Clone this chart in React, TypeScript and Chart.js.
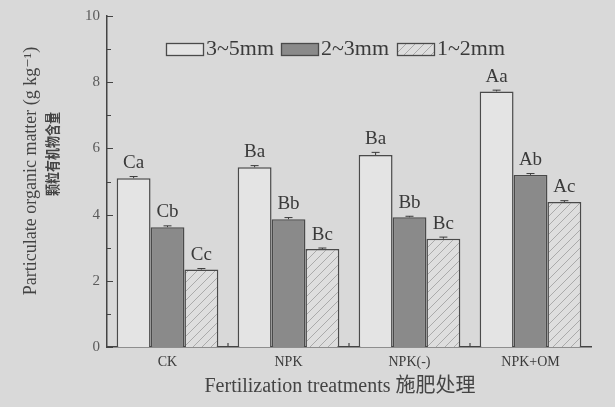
import React, { useEffect, useRef } from "react";
import { Chart, registerables } from "chart.js";

Chart.register(...registerables);

const categories = ["CK", "NPK", "NPK(-)", "NPK+OM"];
const seriesNames = ["3~5mm", "2~3mm", "1~2mm"];
const values35 = [5.1, 5.43, 5.8, 7.72];
const values23 = [3.62, 3.86, 3.92, 5.2];
const values12 = [2.34, 2.96, 3.27, 4.38];
const err35 = [0.05, 0.05, 0.08, 0.04];
const err23 = [0.04, 0.05, 0.03, 0.04];
const err12 = [0.03, 0.03, 0.05, 0.04];
const letters35 = ["Ca", "Ba", "Ba", "Aa"];
const letters23 = ["Cb", "Bb", "Bb", "Ab"];
const letters12 = ["Cc", "Bc", "Bc", "Ac"];
const yTicks = [0, 2, 4, 6, 8, 10];
const yMinorTicks = [1, 3, 5, 7, 9];
const xTitle = "Fertilization treatments 施肥处理";
const yTitleEn = "Particulate organic matter (g kg⁻¹)";
const yTitleZh = "颗粒有机物含量";

const BG = "#d9d9d9";
const INK = "#3a3a3a";
const SERIF = "'Liberation Serif', 'DejaVu Serif', serif";
const CJK = "'Noto Sans CJK SC', sans-serif";

function makeHatch(): CanvasPattern | string {
  const c = document.createElement("canvas");
  c.width = 9;
  c.height = 9;
  const g = c.getContext("2d");
  if (!g) return "#dedede";
  g.fillStyle = "#dedede";
  g.fillRect(0, 0, 9, 9);
  g.strokeStyle = "#aaaaaa";
  g.lineWidth = 1;
  g.beginPath();
  g.moveTo(0, 9);
  g.lineTo(9, 0);
  g.moveTo(-2, 2);
  g.lineTo(2, -2);
  g.moveTo(7, 11);
  g.lineTo(11, 7);
  g.stroke();
  const p = g.createPattern(c, "repeat");
  return p || "#dedede";
}

export default function App() {
  const ref = useRef<HTMLCanvasElement | null>(null);

  useEffect(() => {
    document.body.style.margin = "0";
    document.body.style.background = BG;
    const canvas = ref.current;
    if (!canvas) return;
    const hatch = makeHatch();
    const errs = [err35, err23, err12];
    const letters = [letters35, letters23, letters12];
    const fills = ["#e4e4e4", "#8a8a8a", hatch];

    const annot = {
      id: "annot",
      afterDatasetsDraw(chart: any) {
        const ctx = chart.ctx;
        const y = chart.scales.y;
        const x = chart.scales.x;
        const area = chart.chartArea;
        ctx.save();
        // error bars + letters
        chart.data.datasets.forEach((ds: any, di: number) => {
          const meta = chart.getDatasetMeta(di);
          meta.data.forEach((bar: any, i: number) => {
            const v = ds.data[i];
            const e = errs[di][i];
            const yt = y.getPixelForValue(v + e);
            const bx = bar.x;
            ctx.strokeStyle = INK;
            ctx.lineWidth = 1;
            ctx.beginPath();
            ctx.moveTo(bx, y.getPixelForValue(v));
            ctx.lineTo(bx, yt);
            ctx.moveTo(bx - 4, yt);
            ctx.lineTo(bx + 4, yt);
            ctx.stroke();
            ctx.fillStyle = INK;
            ctx.font = "19px " + SERIF;
            ctx.textAlign = "center";
            ctx.textBaseline = "bottom";
            ctx.fillText(letters[di][i], bx, yt - 4);
          });
        });
        // y ticks (inward)
        ctx.strokeStyle = "#444";
        ctx.lineWidth = 1.2;
        ctx.beginPath();
        yTicks.forEach((t) => {
          const py = Math.round(y.getPixelForValue(t)) + 0.5;
          ctx.moveTo(area.left, py);
          ctx.lineTo(area.left + 6, py);
        });
        yMinorTicks.forEach((t) => {
          const py = Math.round(y.getPixelForValue(t)) + 0.5;
          ctx.moveTo(area.left, py);
          ctx.lineTo(area.left + 4, py);
        });
        // x boundary ticks
        for (let i = 1; i < categories.length; i++) {
          const px = (x.getPixelForValue(i - 1) + x.getPixelForValue(i)) / 2;
          ctx.moveTo(px, area.bottom);
          ctx.lineTo(px, area.bottom - 4);
        }
        ctx.stroke();

        // legend
        const boxW = 37;
        const boxH = 12;
        const ly = 43;
        const boxX = [166, 281, 397];
        ctx.font = "20px " + SERIF;
        ctx.textBaseline = "middle";
        ctx.textAlign = "left";
        seriesNames.forEach((name, i) => {
          const lx = boxX[i];
          ctx.fillStyle = fills[i] as any;
          ctx.fillRect(lx, ly, boxW, boxH);
          ctx.strokeStyle = "#4a4a4a";
          ctx.lineWidth = 1.3;
          ctx.strokeRect(lx + 0.5, ly + 0.5, boxW, boxH);
          ctx.fillStyle = INK;
          const w = ctx.measureText(name).width;
          ctx.save();
          ctx.translate(lx + boxW + 3, ly + boxH / 2 + 1);
          ctx.scale(68 / w, 1);
          ctx.fillText(name, 0, 0);
          ctx.restore();
        });

        // x title
        ctx.fillStyle = "#444";
        ctx.textAlign = "center";
        ctx.textBaseline = "middle";
        ctx.font = "20px " + SERIF + ", " + CJK;
        ctx.fillText(xTitle, 340, 387);

        // y titles
        ctx.save();
        ctx.translate(31, 171);
        ctx.rotate(-Math.PI / 2);
        ctx.font = "18px " + SERIF;
        ctx.fillText(yTitleEn, 0, 0);
        ctx.restore();
        ctx.save();
        ctx.translate(52, 154);
        ctx.rotate(-Math.PI / 2);
        ctx.scale(0.8, 1);
        ctx.font = "bold 15px " + CJK;
        ctx.fillText(yTitleZh, 0, 0);
        ctx.restore();

        ctx.restore();
      },
    };

    const chart = new Chart(canvas, {
      type: "bar",
      data: {
        labels: categories,
        datasets: seriesNames.map((name, i) => ({
          label: name,
          data: [values35, values23, values12][i],
          backgroundColor: fills[i] as any,
          borderColor: "#4a4a4a",
          borderWidth: 1.5,
          barPercentage: 1,
          categoryPercentage: 0.84,
        })),
      },
      options: {
        animation: false,
        responsive: false,
        maintainAspectRatio: false,
        layout: { padding: { top: 11, right: 24, left: 0, bottom: 0 } },
        plugins: {
          tooltip: { enabled: false },
          legend: { display: false },
        },
        scales: {
          x: {
            grid: { display: false, drawTicks: false },
            border: { color: "#444", width: 1.5 },
            ticks: {
              color: INK,
              padding: 7,
              font: { family: SERIF, size: 14 },
            },
            afterFit(scale: any) {
              scale.height = 60;
            },
          },
          y: {
            min: 0,
            max: 10,
            afterBuildTicks(scale: any) {
              scale.ticks = yTicks.map((v) => ({ value: v }));
            },
            grid: { display: false, drawTicks: false },
            border: { color: "#444", width: 1.5 },
            ticks: {
              color: "#5a5a5a",
              padding: 7,
              font: { family: SERIF, size: 15 },
            },
            afterFit(scale: any) {
              scale.width = 107;
            },
          },
        },
      },
      plugins: [annot],
    });
    return () => chart.destroy();
  }, []);

  return (
    <div style={{ width: 615, height: 407, background: BG }}>
      <canvas ref={ref} width={615} height={407} style={{ display: "block" }} />
    </div>
  );
}
